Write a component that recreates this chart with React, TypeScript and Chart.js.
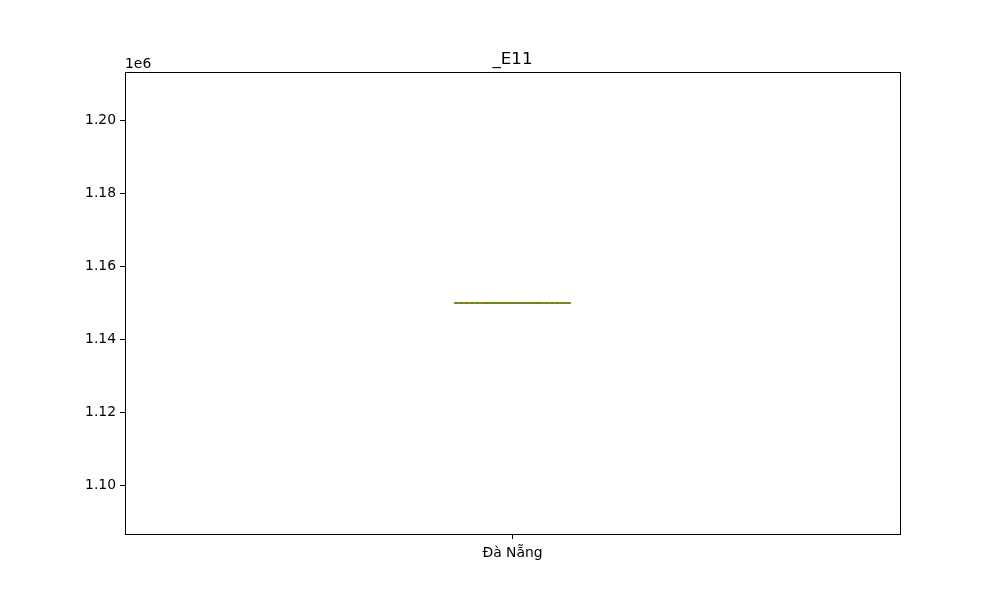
import React, { useEffect, useRef } from "react";
import { Chart, registerables } from "chart.js";

Chart.register(...registerables);

const title = "_E11";
const categories = ["Đà Nẵng"];
const values = [1150000];
const yTicks = [1100000, 1120000, 1140000, 1160000, 1180000, 1200000];
const yMin = 1086750;
const yMax = 1213250;

function quantile(sorted: number[], q: number) {
  const pos = (sorted.length - 1) * q;
  const lo = Math.floor(pos);
  const hi = Math.ceil(pos);
  return sorted[lo] + (sorted[hi] - sorted[lo]) * (pos - lo);
}

export default function App() {
  const ref = useRef<HTMLCanvasElement>(null);
  useEffect(() => {
    const sorted = [...values].sort((a, b) => a - b);
    const q1 = quantile(sorted, 0.25);
    const q3 = quantile(sorted, 0.75);
    const med = quantile(sorted, 0.5);
    const mean = values.reduce((a, b) => a + b, 0) / values.length;
    const mn = sorted[0];
    const mx = sorted[sorted.length - 1];
    const pos = 1;
    const hw = 0.075;
    const cw = 0.0375;
    const font = "DejaVu Sans";

    const framePlugin = {
      id: "frame",
      afterDraw(chart: any) {
        const { ctx, chartArea } = chart;
        const L = Math.round(chartArea.left);
        const R = Math.round(chartArea.right);
        const T = Math.round(chartArea.top);
        const B = Math.round(chartArea.bottom);
        ctx.save();
        ctx.strokeStyle = "#000";
        ctx.lineWidth = 1;
        ctx.strokeRect(L + 0.5, T + 0.5, R - L, B - T);
        ctx.fillStyle = "#000";
        ctx.font = `13.9px "${font}"`;
        ctx.textAlign = "left";
        ctx.textBaseline = "alphabetic";
        ctx.fillText("1e6", L, T - 4);
        ctx.font = `16.7px "${font}"`;
        ctx.textAlign = "center";
        ctx.fillText(title, (L + R) / 2, T - 8);
        ctx.restore();
      },
    };

    const common = { showLine: true, pointRadius: 0, fill: false, tension: 0 };
    const chart = new Chart(ref.current!, {
      type: "line",
      data: {
        datasets: [
          {
            ...common,
            order: 0,
            data: [
              { x: pos - hw, y: mean },
              { x: pos + hw, y: mean },
            ],
            borderColor: "#2ca02c",
            borderWidth: 1.3,
            borderDash: [3.7, 1.6],
          },
          {
            ...common,
            order: 1,
            data: [
              { x: pos - hw, y: med },
              { x: pos + hw, y: med },
            ],
            borderColor: "#ff7f0e",
            borderWidth: 1.3,
          },
          {
            ...common,
            order: 2,
            data: [
              { x: pos - hw, y: q1 },
              { x: pos + hw, y: q1 },
              { x: pos + hw, y: q3 },
              { x: pos - hw, y: q3 },
              { x: pos - hw, y: q1 },
            ],
            borderColor: "#000",
            borderWidth: 1,
          },
          {
            ...common,
            order: 3,
            data: [
              { x: pos - cw, y: mn },
              { x: pos + cw, y: mn },
            ],
            borderColor: "#000",
            borderWidth: 1,
          },
          {
            ...common,
            order: 3,
            data: [
              { x: pos - cw, y: mx },
              { x: pos + cw, y: mx },
            ],
            borderColor: "#000",
            borderWidth: 1,
          },
          {
            ...common,
            order: 3,
            data: [
              { x: pos, y: q1 },
              { x: pos, y: mn },
            ],
            borderColor: "#000",
            borderWidth: 1,
          },
          {
            ...common,
            order: 3,
            data: [
              { x: pos, y: q3 },
              { x: pos, y: mx },
            ],
            borderColor: "#000",
            borderWidth: 1,
          },
        ],
      },
      options: {
        animation: false,
        responsive: false,
        maintainAspectRatio: false,
        layout: { padding: { left: 0, right: 100, top: 72, bottom: 0 } },
        plugins: { legend: { display: false }, tooltip: { enabled: false }, title: { display: false } },
        scales: {
          x: {
            type: "linear",
            min: 0.5,
            max: 1.5,
            afterBuildTicks: (s: any) => {
              s.ticks = categories.map((_, i) => ({ value: i + 1 }));
            },
            afterFit: (s: any) => {
              s.height = 66;
            },
            ticks: {
              color: "#000",
              font: { family: font, size: 13.9 },
              padding: 6,
              maxRotation: 0,
              autoSkip: false,
              callback: (v: any) => categories[Math.round(Number(v)) - 1] ?? "",
            },
            grid: { drawOnChartArea: false, tickLength: 5, color: "#000", tickColor: "#000" },
            border: { display: false },
          },
          y: {
            type: "linear",
            min: yMin,
            max: yMax,
            afterBuildTicks: (s: any) => {
              s.ticks = yTicks.map((v) => ({ value: v }));
            },
            afterFit: (s: any) => {
              s.width = 125;
            },
            ticks: {
              color: "#000",
              font: { family: font, size: 13.9 },
              padding: 4,
              autoSkip: false,
              callback: (v: any) => (Number(v) / 1e6).toFixed(2),
            },
            grid: { drawOnChartArea: false, tickLength: 5, color: "#000", tickColor: "#000" },
            border: { display: false },
          },
        },
      },
      plugins: [framePlugin],
    });
    return () => chart.destroy();
  }, []);
  return (
    <div style={{ position: "fixed", left: 0, top: 0, width: 1000, height: 600, background: "#fff" }}>
      <canvas ref={ref} width={1000} height={600} style={{ width: 1000, height: 600 }} />
    </div>
  );
}
